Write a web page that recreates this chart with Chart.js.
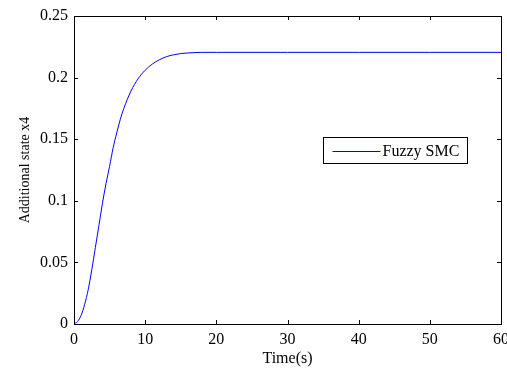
<!DOCTYPE html>
<html>
<head>
<meta charset="utf-8">
<script src="https://cdn.jsdelivr.net/npm/chart.js@4/dist/chart.umd.min.js"></script>
<style>
  html, body { margin: 0; padding: 0; background: #fff; }
</style>
</head>
<body>
<canvas id="chart" width="507" height="368"></canvas>
<script>
// values
const timeS = [0, 0.5, 1, 1.5, 2, 2.5, 3, 3.5, 4, 4.5, 5, 5.5, 6, 6.5, 7, 8, 9, 10, 11, 12, 13, 14, 15, 16, 17, 18, 20, 30, 40, 50, 60];
const x4Fuzzy = [0, 0.002, 0.007, 0.016, 0.028, 0.044, 0.062, 0.080, 0.098, 0.114, 0.128, 0.143, 0.155, 0.166, 0.175, 0.189, 0.199, 0.206, 0.211, 0.2145, 0.217, 0.2185, 0.2195, 0.2200, 0.2203, 0.2205, 0.2205, 0.2205, 0.2205, 0.2205, 0.2205];
const seriesLabel = 'Fuzzy SMC';
const xTickValues = [0, 10, 20, 30, 40, 50, 60];
const yTickValues = [0, 0.05, 0.1, 0.15, 0.2, 0.25];
const xTitle = 'Time(s)';
const yTitle = 'Additional state x4';

const serif = 'Liberation Serif, Times New Roman, serif';
const tickFont = { family: serif, size: 16 };

// MATLAB-ish box with inward ticks on all four sides
const boxAxes = {
  id: 'boxAxes',
  afterDatasetsDraw(chart) {
    const { ctx, chartArea: a, scales: { x, y } } = chart;
    const len = 4;
    ctx.save();
    ctx.strokeStyle = '#000';
    ctx.lineWidth = 1;
    ctx.beginPath();
    xTickValues.forEach(v => {
      const px = Math.round(x.getPixelForValue(v)) + 0.5;
      ctx.moveTo(px, a.bottom); ctx.lineTo(px, a.bottom - len);
      ctx.moveTo(px, a.top); ctx.lineTo(px, a.top + len);
    });
    yTickValues.forEach(v => {
      const py = Math.round(y.getPixelForValue(v)) + 0.5;
      ctx.moveTo(a.left, py); ctx.lineTo(a.left + len, py);
      ctx.moveTo(a.right, py); ctx.lineTo(a.right - len, py);
    });
    ctx.stroke();
    ctx.strokeRect(Math.round(a.left) + 0.5, Math.round(a.top) + 0.5,
      Math.round(a.right - a.left), Math.round(a.bottom - a.top));
    ctx.restore();
  }
};

// legend box inside the plot, like the original figure
const insetLegend = {
  id: 'insetLegend',
  afterDraw(chart, args, opts) {
    const { ctx, chartArea: a } = chart;
    const ds = chart.data.datasets[0];
    const bx = Math.round(a.left + opts.x) + 0.5;
    const by = Math.round(a.top + opts.y) + 0.5;
    ctx.save();
    ctx.fillStyle = '#fff';
    ctx.fillRect(bx, by, opts.w, opts.h);
    ctx.strokeStyle = '#000';
    ctx.lineWidth = 1;
    ctx.strokeRect(bx, by, opts.w, opts.h);
    const midY = Math.round(by + opts.h / 2) + 0.5;
    ctx.strokeStyle = ds.borderColor;
    ctx.beginPath();
    ctx.moveTo(bx + 9, midY);
    ctx.lineTo(bx + 57, midY);
    ctx.stroke();
    ctx.fillStyle = '#000';
    ctx.font = '16px ' + serif;
    ctx.textBaseline = 'middle';
    ctx.fillText(ds.label, bx + 59, midY);
    ctx.restore();
  }
};

new Chart(document.getElementById('chart'), {
  type: 'line',
  data: {
    datasets: [{
      label: seriesLabel,
      data: timeS.map((t, i) => ({ x: t, y: x4Fuzzy[i] })),
      borderColor: '#0000ff',
      borderWidth: 1,
      pointRadius: 0,
      cubicInterpolationMode: 'monotone',
      fill: false
    }]
  },
  plugins: [boxAxes, insetLegend],
  options: {
    responsive: false,
    animation: false,
    devicePixelRatio: 1,
    layout: { padding: { top: 16, right: 6, left: 0, bottom: 0 } },
    plugins: {
      legend: { display: false },
      tooltip: { enabled: false },
      insetLegend: { x: 249, y: 121, w: 144, h: 26 }
    },
    scales: {
      x: {
        type: 'linear',
        min: 0,
        max: 60,
        afterBuildTicks: s => { s.ticks = xTickValues.map(v => ({ value: v })); },
        afterFit: s => { s.height = 44; s.paddingLeft = 0; s.paddingRight = 0; },
        grid: { display: false, drawTicks: false },
        border: { display: false },
        ticks: { color: '#000', font: tickFont, padding: 6, maxRotation: 0, autoSkip: false, callback: v => String(v) },
        title: { display: true, text: xTitle, color: '#000', font: tickFont, padding: { top: 0, bottom: 0 } }
      },
      y: {
        type: 'linear',
        min: 0,
        max: 0.25,
        afterBuildTicks: s => { s.ticks = yTickValues.map(v => ({ value: v })); },
        afterFit: s => { s.width = 74; },
        grid: { display: false, drawTicks: false },
        border: { display: false },
        ticks: { color: '#000', font: tickFont, padding: 6, autoSkip: false, callback: v => String(v) },
        title: { display: true, text: yTitle, color: '#000', font: { family: serif, size: 14 }, padding: { top: 17, bottom: 0 } }
      }
    }
  }
});
</script>
</body>
</html>
